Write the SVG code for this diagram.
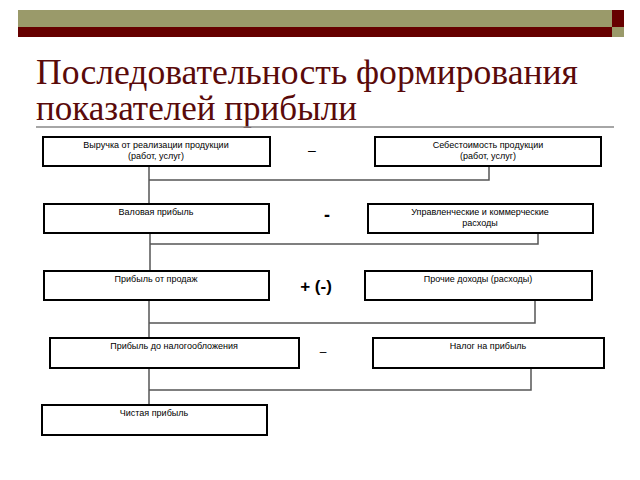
<svg xmlns="http://www.w3.org/2000/svg" width="640" height="480" viewBox="0 0 640 480">
<style>
.b{fill:#fff;stroke:#000;stroke-width:2}
.t{font-family:"Liberation Sans",Arial,sans-serif;font-size:9px;text-anchor:middle;fill:#000}
.c{fill:none;stroke:#555;stroke-width:1.5}
.op{font-family:"Liberation Sans",Arial,sans-serif;fill:#000;text-anchor:middle}
.h{font-family:"Liberation Serif","DejaVu Serif",serif;font-size:36px;fill:#5a0a0a}
</style>
<rect width="640" height="480" fill="#fff"/>
<rect x="18" y="10" width="594" height="17" fill="#9a9a6a"/>
<rect x="18" y="27" width="594" height="10" fill="#660000"/>
<rect x="612" y="10" width="12" height="17" fill="#660000"/>
<rect x="612" y="27" width="12" height="10" fill="#9a9a6a"/>
<text class="h" x="36" y="84" textLength="542" lengthAdjust="spacingAndGlyphs">Последовательность формирования</text>
<text class="h" x="36" y="120" textLength="321" lengthAdjust="spacingAndGlyphs">показателей прибыли</text>
<line x1="36" y1="127" x2="614" y2="127" stroke="#888" stroke-width="1.5"/>
<g id="connectors">
<path class="c" d="M149 166V204M149 180H489V166"/>
<path class="c" d="M150 233V271M150 244H538V233"/>
<path class="c" d="M149 300V338M149 323H535V300"/>
<path class="c" d="M149 368V405M149 390H531V368"/>
</g>
<g id="n1"><rect class="b" x="43" y="137" width="227" height="29"/><text class="t" x="156" y="148">Выручка от реализации продукции</text><text class="t" x="156" y="159">(работ, услуг)</text></g>
<g id="n2"><rect class="b" x="375" y="137" width="226" height="29"/><text class="t" x="488" y="148">Себестоимость продукции</text><text class="t" x="488" y="159">(работ, услуг)</text></g>
<g id="n3"><rect class="b" x="44" y="204" width="225" height="29"/><text class="t" x="156" y="215">Валовая прибыль</text></g>
<g id="n4"><rect class="b" x="368" y="204" width="225" height="29"/><text class="t" x="480" y="215">Управленческие и коммерческие</text><text class="t" x="480" y="226">расходы</text></g>
<g id="n5"><rect class="b" x="44" y="271" width="225" height="29"/><text class="t" x="156" y="282">Прибыль от продаж</text></g>
<g id="n6"><rect class="b" x="365" y="271" width="227" height="29"/><text class="t" x="478" y="282">Прочие доходы (расходы)</text></g>
<g id="n7"><rect class="b" x="50" y="338" width="249" height="30"/><text class="t" x="174" y="349">Прибыль до налогообложения</text></g>
<g id="n8"><rect class="b" x="373" y="338" width="231" height="30"/><text class="t" x="488" y="349">Налог на прибыль</text></g>
<g id="n9"><rect class="b" x="42" y="405" width="225" height="30"/><text class="t" x="154" y="416">Чистая прибыль</text></g>
<text class="op" x="312" y="155" font-size="14">–</text>
<text class="op" x="327" y="221" font-size="18" font-weight="bold">-</text>
<text class="op" x="316" y="292" font-size="17" font-weight="bold">+ (-)</text>
<text class="op" x="323" y="356" font-size="12">–</text>
</svg>
